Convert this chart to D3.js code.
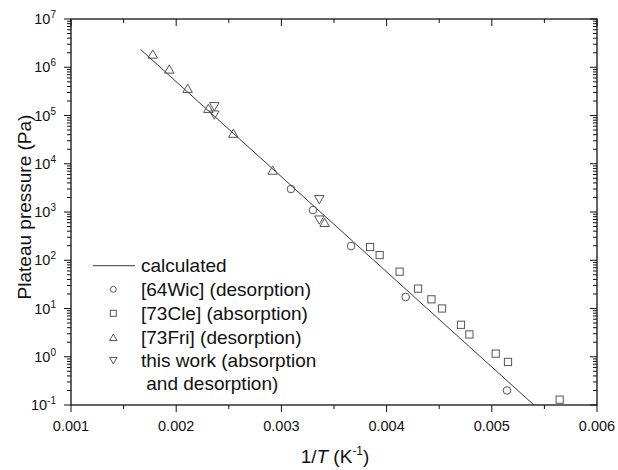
<!DOCTYPE html>
<html><head><meta charset="utf-8">
<script src="https://cdn.jsdelivr.net/npm/d3@7"></script>
<style>body{margin:0;background:#fff}svg{display:block}text{font-family:Arial,"Liberation Sans",sans-serif;fill:#111}</style>
</head><body>
<svg id="c" width="618" height="470"></svg>
<script>
// Data
const calcX = [0.00166, 0.00540];
const calcY = [2.35e6, 0.1];
const wicX = [0.003091, 0.00330, 0.003662, 0.004181, 0.005144];
const wicY = [3000, 1100, 197, 17.3, 0.20];
const cleX = [0.003843, 0.003934, 0.004124, 0.004299, 0.004426, 0.004527, 0.004707, 0.004787, 0.005037, 0.005154, 0.005645];
const cleY = [188, 128, 58, 25.8, 15.5, 10, 4.6, 2.9, 1.16, 0.78, 0.129];
const friX = [0.001777, 0.001934, 0.002109, 0.002306, 0.002543, 0.002917, 0.003411];
const friY = [1.88e6, 9.2e5, 3.66e5, 1.41e5, 4.3e4, 7.4e3, 610];
const twX = [0.002362, 0.002362, 0.00336, 0.00336];
const twY = [1.52e5, 1.02e5, 1800, 680];
const xTicks = [0.001, 0.002, 0.003, 0.004, 0.005, 0.006];
const xTickLabels = ["0.001", "0.002", "0.003", "0.004", "0.005", "0.006"];
const yExps = [-1, 0, 1, 2, 3, 4, 5, 6, 7];
const legendLabels = ["calculated", "[64Wic] (desorption)", "[73Cle] (absorption)", "[73Fri] (desorption)", "this work (absorption", " and desorption)"];

const svg = d3.select("#c");
const L = 71, R = 597, T = 19, B = 405;
const x = d3.scaleLinear().domain([0.001, 0.006]).range([L, R]);
const y = d3.scaleLog().domain([0.1, 1e7]).range([B, T]);
const ink = "#111", sym = "#555";

// frame
svg.append("rect").attr("x", L).attr("y", T).attr("width", R - L).attr("height", B - T)
  .attr("fill", "none").attr("stroke", ink).attr("stroke-width", 1.3);

// x ticks
const xMinor = d3.range(0.0015, 0.006, 0.001);
const tk = svg.append("g").attr("stroke", ink).attr("stroke-width", 1);
xTicks.forEach(v => {
  tk.append("line").attr("x1", x(v)).attr("x2", x(v)).attr("y1", B).attr("y2", B + 7);
  tk.append("line").attr("x1", x(v)).attr("x2", x(v)).attr("y1", T).attr("y2", T + 7);
});
xMinor.forEach(v => {
  tk.append("line").attr("x1", x(v)).attr("x2", x(v)).attr("y1", B).attr("y2", B + 4);
  tk.append("line").attr("x1", x(v)).attr("x2", x(v)).attr("y1", T).attr("y2", T + 4);
});
// y ticks
yExps.forEach(e => {
  const v = Math.pow(10, e);
  tk.append("line").attr("x1", L - 7).attr("x2", L).attr("y1", y(v)).attr("y2", y(v));
  tk.append("line").attr("x1", R - 7).attr("x2", R).attr("y1", y(v)).attr("y2", y(v));
  if (e < 7) for (let m = 2; m <= 9; m++) {
    const yy = y(m * v);
    tk.append("line").attr("x1", L - 4).attr("x2", L).attr("y1", yy).attr("y2", yy);
    tk.append("line").attr("x1", R - 4).attr("x2", R).attr("y1", yy).attr("y2", yy);
  }
});

// tick labels
xTicks.forEach((v, i) => {
  svg.append("text").attr("x", x(v)).attr("y", 431).attr("text-anchor", "middle")
    .attr("font-size", 14.5).text(xTickLabels[i]);
});
yExps.forEach(e => {
  const t = svg.append("text").attr("x", 56).attr("y", y(Math.pow(10, e)) + 5)
    .attr("text-anchor", "end").attr("font-size", 14.5);
  t.append("tspan").text("10");
  t.append("tspan").attr("font-size", 10).attr("dy", -6).text(String(e));
});

// axis titles
const xt = svg.append("text").attr("x", 335).attr("y", 463).attr("text-anchor", "middle").attr("font-size", 19);
xt.append("tspan").text("1/");
xt.append("tspan").attr("font-style", "italic").text("T");
xt.append("tspan").text(" (K");
xt.append("tspan").attr("font-size", 12).attr("dy", -8).text("-1");
xt.append("tspan").attr("dy", 8).text(")");
svg.append("text").attr("transform", "translate(31,207) rotate(-90)").attr("text-anchor", "middle")
  .attr("font-size", 19).text("Plateau pressure (Pa)");

// calculated line
const line = d3.line().x(d => x(d[0])).y(d => y(d[1]));
svg.append("path").datum(calcX.map((v, i) => [v, calcY[i]])).attr("d", line)
  .attr("fill", "none").attr("stroke", "#222").attr("stroke-width", 0.9);

// symbols
function circ(g, cx, cy, r) { g.append("circle").attr("cx", cx).attr("cy", cy).attr("r", r); }
function sq(g, cx, cy, s) { g.append("rect").attr("x", cx - s / 2).attr("y", cy - s / 2).attr("width", s).attr("height", s); }
function tri(g, cx, cy, w, up) {
  const h = w * 0.87, s = up ? 1 : -1;
  g.append("path").attr("d", `M${cx},${cy - s * h / 2}L${cx + w / 2},${cy + s * h / 2}L${cx - w / 2},${cy + s * h / 2}Z`);
}
const pts = svg.append("g").attr("fill", "none").attr("stroke", sym).attr("stroke-width", 1);
wicX.forEach((v, i) => circ(pts, x(v), y(wicY[i]), 3.8));
cleX.forEach((v, i) => sq(pts, x(v), y(cleY[i]), 7.2));
friX.forEach((v, i) => tri(pts, x(v), y(friY[i]), 9.5, true));
twX.forEach((v, i) => tri(pts, x(v), y(twY[i]), 9.5, false));

// legend
const lg = svg.append("g");
const rows = [265.7, 289.3, 313.3, 337.3, 360.7, 383.5];
lg.append("line").attr("x1", 93).attr("x2", 135).attr("y1", rows[0]).attr("y2", rows[0]).attr("stroke", "#222").attr("stroke-width", 0.9);
const lsym = lg.append("g").attr("fill", "none").attr("stroke", sym).attr("stroke-width", 1);
circ(lsym, 113.3, rows[1], 3);
sq(lsym, 113.3, rows[2], 6);
tri(lsym, 113.3, rows[3], 7.5, true);
tri(lsym, 113.3, rows[4], 7.5, false);
legendLabels.forEach((s, i) => {
  lg.append("text").attr("x", i === 5 ? 141 : 141).attr("y", rows[i] + 6.5).attr("font-size", 19)
    .attr("xml:space", "preserve").style("white-space", "pre").text(s);
});
</script>
</body></html>
